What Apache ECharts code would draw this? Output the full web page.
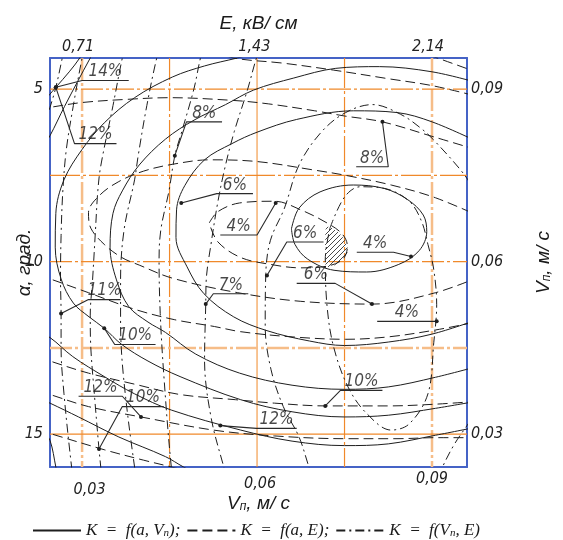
<!DOCTYPE html>
<html>
<head>
<meta charset="utf-8">
<script src="https://cdn.jsdelivr.net/npm/echarts@6/dist/echarts.min.js"></script>
<style>
html, body { margin: 0; padding: 0; background: #fff; }
#main { width: 563px; height: 540px; }
</style>
</head>
<body>
<div id="main"></div>
<script>
// все точки: [Vn, м/с ; α, град.]
// K = f(a, Vn) - сплошные
var s1 = [[0.0659,9.05],[0.0672,8.45],[0.0708,7.98],[0.0765,7.78],[0.0818,7.88],[0.0858,8.2],[0.0885,8.65],[0.0891,9.13],[0.0878,9.68],[0.0843,10.08],[0.0788,10.3],[0.0732,10.25],[0.0687,9.93],[0.0665,9.5],[0.0659,9.05]];
var s2 = [[0.0975,6.5],[0.09,5.95],[0.084,5.68],[0.0765,5.63],[0.0668,5.88],[0.06,6.25],[0.0557,6.58],[0.051,7.05],[0.0476,7.8],[0.0462,8.5],[0.0461,9.3],[0.048,10.15],[0.0509,10.93],[0.056,11.6],[0.0617,12.0],[0.069,12.3],[0.075,12.43],[0.0825,12.33],[0.09,12.1],[0.0975,11.7]];
var s3 = [[0.0975,4.8],[0.09,4.5],[0.081,4.35],[0.0735,4.4],[0.0663,4.68],[0.0594,5.03],[0.0546,5.45],[0.0492,5.9],[0.0443,6.45],[0.0398,7.2],[0.0369,7.95],[0.0353,8.6],[0.0348,9.58],[0.0359,10.53],[0.038,11.3],[0.0413,11.75],[0.0443,12.05],[0.0495,12.68],[0.057,13.23],[0.066,13.58],[0.075,13.7],[0.0825,13.63],[0.0906,13.35],[0.0975,13.05]];
var s4 = [[0.0615,3.88],[0.0566,4.1],[0.051,4.33],[0.0455,4.65],[0.039,5.25],[0.0338,5.98],[0.03,6.75],[0.0269,7.63],[0.0255,8.6],[0.0254,9.58],[0.0264,10.5],[0.0285,11.2],[0.0312,11.6],[0.0338,11.93],[0.0368,12.4],[0.0413,12.88],[0.0468,13.33],[0.0572,14.0],[0.066,14.35],[0.075,14.5],[0.0825,14.45],[0.0906,14.25],[0.0975,14.05]];
var s5a = [[0.033,3.63],[0.0314,4.1],[0.027,5.5],[0.0245,6.35],[0.0225,6.9]];
var s5b = [[0.0225,12.05],[0.0245,12.2],[0.0284,12.75],[0.0338,13.33],[0.039,13.83],[0.0453,14.3],[0.0572,14.88],[0.066,15.2],[0.075,15.33],[0.0825,15.28],[0.0906,15.03],[0.0975,14.8]];
var s6a = [[0.0308,3.75],[0.0296,4.1],[0.0278,4.5],[0.0255,4.95],[0.0233,5.38]];
var s6b = [[0.0225,13.95],[0.0245,14.1],[0.0294,14.5],[0.0363,15.08],[0.0443,15.65],[0.0474,15.95],[0.051,16.25]];
var s7 = [[0.0233,14.88],[0.0245,15.18],[0.0255,15.95],[0.0258,16.25]];

// K = f(a, E) - штриховые
var d1 = [[0.0518,8.88],[0.0533,8.55],[0.057,8.3],[0.063,8.25],[0.0675,8.5],[0.072,8.88],[0.0746,9.2],[0.0755,9.55],[0.0747,9.93],[0.072,10.13],[0.0675,10.18],[0.0623,10.08],[0.0572,9.88],[0.0533,9.43],[0.0518,8.88]];
var d2a = [[0.0225,5.58],[0.0245,5.53],[0.03,5.39],[0.0375,5.3],[0.045,5.25],[0.056,5.33],[0.062,5.43],[0.0699,5.63],[0.075,5.78],[0.0815,5.95],[0.0906,6.4],[0.0975,6.75]];
var d2b = [[0.0225,10.4],[0.0245,10.5],[0.0311,10.9],[0.039,11.38],[0.0458,11.68],[0.0527,11.88],[0.0572,12.03],[0.066,12.18],[0.0752,12.25],[0.0825,12.18],[0.0906,11.98],[0.0975,11.75]];
var d3 = [[0.099,8.75],[0.0906,8.15],[0.083,7.78],[0.0752,7.5],[0.0699,7.35],[0.06,7.1],[0.0519,7.05],[0.0455,7.18],[0.0405,7.38],[0.0363,7.68],[0.033,8.08],[0.0311,8.58],[0.0315,9.03],[0.0338,9.5],[0.0368,9.88],[0.0398,10.1],[0.0455,10.48],[0.0567,10.9],[0.0675,11.15],[0.0798,11.23],[0.0906,10.9],[0.099,10.38]];
var d4a = [[0.0525,3.88],[0.056,4.1],[0.0645,4.25],[0.0731,4.45],[0.0825,4.7],[0.09,4.9],[0.0975,5.2]];
var d4b = [[0.0225,12.75],[0.0245,12.88],[0.0311,13.23],[0.039,13.55],[0.0468,13.85],[0.0563,14.0],[0.063,14.1],[0.0717,14.18],[0.0825,14.18],[0.0906,14.13],[0.0975,14.05]];
var d5a = [[0.087,3.88],[0.0909,4.1],[0.0975,4.5]];
var d5b = [[0.0225,13.75],[0.0245,13.85],[0.0311,14.2],[0.0401,14.5],[0.0525,14.88],[0.063,15.05],[0.0752,15.13],[0.084,15.13],[0.0906,15.1],[0.0975,15.1]];
var d6 = [[0.0225,14.88],[0.0245,14.98],[0.0338,15.45],[0.0405,15.75],[0.0465,16.0],[0.0495,16.15]];

// K = f(Vn, E) - штрихпунктир
var ddA = [[0.0725,9.03],[0.075,8.13],[0.0777,7.83],[0.0819,7.88],[0.0861,8.25],[0.0882,8.83],[0.0893,9.5],[0.0903,10.23],[0.0908,11.25],[0.0903,12.35],[0.0893,13.83],[0.0861,14.7],[0.083,14.88],[0.0788,14.4],[0.0756,13.63],[0.0731,12.45],[0.072,11.28],[0.0717,9.93],[0.0725,9.03]];
var ddB1 = [[0.0698,16.38],[0.0689,15.95],[0.0672,15.08],[0.0645,14.2],[0.0624,13.13],[0.0614,11.88],[0.0615,10.35],[0.0623,9.38],[0.0647,8.45],[0.0672,7.2],[0.071,6.25],[0.0752,5.68],[0.0798,5.45],[0.0846,5.73],[0.0882,6.15],[0.0906,6.53],[0.0954,7.45],[0.0975,8.0]];
var ddB2 = [[0.0912,16.25],[0.0918,15.95],[0.0938,15.3],[0.096,14.75],[0.0975,14.38]];
var ddC = [[0.051,3.75],[0.0503,4.1],[0.0492,4.98],[0.0471,6.23],[0.0459,6.93],[0.0449,7.95],[0.0435,9.08],[0.0432,10.0],[0.0434,11.5],[0.044,13.25],[0.0453,15.95],[0.0458,16.25]];
var ddD = [[0.0608,3.75],[0.0599,4.1],[0.0584,5.0],[0.0561,6.23],[0.0546,7.2],[0.0533,8.25],[0.0521,9.5],[0.0513,10.5],[0.0512,11.25],[0.051,12.85],[0.0521,14.5],[0.0543,15.95],[0.0549,16.25]];
var ddE = [[0.0435,3.75],[0.0428,4.1],[0.0411,5.48],[0.0396,6.95],[0.039,7.63],[0.0372,9.08],[0.0366,10.53],[0.0366,11.75],[0.0371,13.33],[0.039,15.95],[0.0395,16.25]];
var ddF = [[0.0375,3.75],[0.0369,4.1],[0.0353,5.48],[0.0332,7.23],[0.0327,7.95],[0.0323,9.08],[0.0318,10.53],[0.0314,11.55],[0.0315,12.5],[0.0321,13.83],[0.0329,15.43],[0.0332,15.95],[0.0333,16.25]];
var ddG = [[0.0305,3.75],[0.03,4.1],[0.0285,5.48],[0.0273,6.75],[0.0267,7.95],[0.0264,9.25],[0.0263,10.5],[0.0264,11.5],[0.0264,12.5],[0.0269,13.83],[0.0282,15.95],[0.0285,16.25]];
var ddH = [[0.027,3.75],[0.0266,4.1],[0.0255,4.95],[0.0245,5.53],[0.0233,6.13]];

// заштрихованная область
var hatch = [[0.072,9.0],[0.0735,9.1],[0.0747,9.3],[0.0755,9.58],[0.0753,9.83],[0.0743,10.0],[0.072,10.15],[0.0717,9.75],[0.0717,9.38]];

// выноски
var labelText = ['14%','12%','8%','8%','6%','4%','6%','4%','6%','4%','7%','11%','10%','12%','10%','10%','12%'];
var labelDot = [[0.0255,4.95],[0.0255,4.95],[0.0459,6.93],[0.0815,5.95],[0.047,8.3],[0.0632,8.3],[0.0617,10.4],[0.0864,9.85],[0.0797,11.23],[0.0908,11.73],[0.0512,11.23],[0.0264,11.5],[0.0338,11.93],[0.0401,14.5],[0.0329,15.43],[0.0717,14.18],[0.0537,14.75]];
var labelElbow = [[0.03,4.75],[0.0287,6.58],[0.0479,5.95],[0.0825,7.25],[0.0531,8.03],[0.06,9.23],[0.0651,9.43],[0.0834,9.73],[0.0734,10.63],[0.0908,11.73],[0.0525,10.93],[0.0311,11.1],[0.0356,12.4],[0.0369,13.9],[0.0369,14.2],[0.0743,13.73],[0.0599,14.83]];
var labelEnd = [[0.038,4.75],[0.0359,6.58],[0.054,5.95],[0.077,7.25],[0.0593,8.03],[0.0537,9.23],[0.0714,9.43],[0.0771,9.73],[0.0668,10.63],[0.0806,11.73],[0.0585,10.93],[0.0366,11.1],[0.0426,12.4],[0.0294,13.9],[0.044,14.2],[0.0815,13.73],[0.0668,14.83]];

// сетка
var gridV = [0.03, 0.045, 0.06, 0.075, 0.09];
var gridA = [5, 7.5, 10, 12.5, 15];
var ticksV = [0.03, 0.06, 0.09];
var ticksA = [5, 10, 15];
var ticksE = [0.71, 1.43, 2.14];

var xMin = 0.0245, xMax = 0.096, yMin = 4.1, yMax = 15.95;
var ink = '#1e1e1e';
var orange = '#f0892a', peach = '#f6bd88';
var narrow = "'Liberation Sans Narrow', 'DejaVu Sans Condensed', 'Liberation Sans', sans-serif";
var sans = "'Liberation Sans', Arial, sans-serif";
var serif = "'Liberation Serif', 'Times New Roman', serif";
var nameS = 'K = f(a, Vn);', nameD = 'K = f(a, E);', nameDD = 'K = f(Vn, E)';
var dashType = [10, 5], dashDotType = [9, 4, 2, 4];

var chart = echarts.init(document.getElementById('main'));
var series = [];

// линии сетки
var vStyle = [
    { color: peach, width: 2.5, type: [22, 3, 3, 3] },
    { color: orange, width: 1.2, type: [22, 3, 3, 3] },
    { color: orange, width: 1, type: 'solid' },
    { color: orange, width: 1.2, type: [30, 3, 3, 3] },
    { color: peach, width: 2.5, type: [22, 3, 3, 3] }
];
var aStyle = [
    { color: orange, width: 1.2, type: [22, 3, 3, 3] },
    { color: orange, width: 1.2, type: [30, 3, 3, 3] },
    { color: orange, width: 1.2, type: [22, 3, 3, 3] },
    { color: peach, width: 2.5, type: [22, 3, 3, 3] },
    { color: orange, width: 1.2, type: 'solid' }
];
gridV.forEach(function (v, i) {
    series.push({ type: 'line', name: 'gv', data: [[v, yMin], [v, yMax]], symbol: 'none', silent: true, z: 1, lineStyle: vStyle[i] });
});
gridA.forEach(function (a, i) {
    series.push({ type: 'line', name: 'ga', data: [[xMin, a], [xMax, a]], symbol: 'none', silent: true, z: 1, lineStyle: aStyle[i] });
});

function curve(name, pts, type) {
    return {
        name: name, type: 'line', data: pts, smooth: 0.35, symbol: 'none',
        clip: true, silent: true, z: 3,
        itemStyle: { color: ink },
        lineStyle: { color: ink, width: 1, type: type }
    };
}
[s1, s2, s3, s4, s5a, s5b, s6a, s6b, s7].forEach(function (p) { series.push(curve(nameS, p, 'solid')); });
[d1, d2a, d2b, d3, d4a, d4b, d5a, d5b, d6].forEach(function (p) { series.push(curve(nameD, p, dashType)); });
[ddA, ddB1, ddB2, ddC, ddD, ddE, ddF, ddG, ddH].forEach(function (p) { series.push(curve(nameDD, p, dashDotType)); });

// штриховка
var hc = document.createElement('canvas');
hc.width = 5; hc.height = 5;
var hctx = hc.getContext('2d');
hctx.strokeStyle = '#333';
hctx.lineWidth = 0.9;
hctx.beginPath();
hctx.moveTo(0, 5); hctx.lineTo(5, 0);
hctx.moveTo(-1, 1); hctx.lineTo(1, -1);
hctx.moveTo(4, 6); hctx.lineTo(6, 4);
hctx.stroke();
series.push({
    type: 'custom', name: 'hatch', silent: true, z: 2,
    data: [hatch[0]],
    renderItem: function (params, api) {
        var pts = hatch.map(function (p) { return api.coord(p); });
        return { type: 'polygon', shape: { points: pts, smooth: 0.4 }, style: { fill: { image: hc, repeat: 'repeat' }, stroke: null } };
    }
});

// выноски и подписи
labelText.forEach(function (t, i) {
    series.push({
        type: 'line', name: 'lead', silent: true, z: 4, clip: false,
        data: [
            { value: labelDot[i], symbol: 'circle', symbolSize: 4 },
            { value: labelElbow[i], symbol: 'none' },
            { value: labelEnd[i], symbol: 'none' }
        ],
        showSymbol: true,
        itemStyle: { color: ink },
        lineStyle: { color: '#2a2a2a', width: 1.1 }
    });
});
series.push({
    type: 'scatter', name: 'txt', silent: true, z: 5, symbolSize: 0.1,
    itemStyle: { color: 'transparent' },
    data: labelText.map(function (t, i) {
        return { name: t, value: [(labelElbow[i][0] + labelEnd[i][0]) / 2, labelElbow[i][1]] };
    }),
    label: {
        show: true, position: 'top', distance: 0, formatter: '{b}',
        fontFamily: narrow, fontStyle: 'italic', fontSize: 17, color: '#1a1a1a'
    }
});

var frame = { show: true, lineStyle: { color: '#4563c6', width: 2 } };
var tickFont = { fontFamily: narrow, fontStyle: 'italic', fontSize: 16, color: '#222' };
function comma(v, d) { return v.toFixed(d).replace('.', ','); }
var subRich = {
    v: { fontFamily: sans, fontStyle: 'italic', fontSize: 19, color: '#1a1a1a' },
    s: { fontFamily: sans, fontStyle: 'italic', fontSize: 12, color: '#1a1a1a', padding: [7, 0, 0, 0] }
};

chart.setOption({
    animation: false,
    grid: { left: 50, right: 96, top: 58, bottom: 73, containLabel: false, outerBoundsMode: 'none' },
    legend: {
        left: 27, top: 517, itemWidth: 48, itemHeight: 14, itemGap: 6, selectedMode: false,
        data: [nameS, nameD, nameDD],
        itemStyle: { opacity: 0 },
        formatter: function (name) {
            return '{t|' + name.replace(' = ', '  =  ').replace('Vn', 'V}{s|n}{t|') + '}';
        },
        textStyle: {
            rich: {
                t: { fontFamily: serif, fontStyle: 'italic', fontSize: 17, color: '#1a1a1a' },
                s: { fontFamily: serif, fontStyle: 'italic', fontSize: 11, color: '#1a1a1a', padding: [6, 0, 0, 0] }
            }
        }
    },
    xAxis: [{
        type: 'value', position: 'bottom', min: xMin, max: xMax,
        axisLine: frame, axisTick: { show: false }, splitLine: { show: false },
        axisLabel: {
            customValues: ticksV, margin: 4,
            formatter: function (v) {
                var k = v < 0.04 ? 'a' : (v < 0.07 ? 'b' : 'c');
                return '{' + k + '|' + comma(v, 2) + '}';
            },
            rich: {
                a: Object.assign({ padding: [11, 0, 0, 15] }, tickFont),
                b: Object.assign({ padding: [5, 0, 0, 6] }, tickFont),
                c: Object.assign({ padding: [0, 0, 0, 0] }, tickFont)
            }
        },
        name: '{v|V}{s|п}{v|, м/ с}', nameLocation: 'middle', nameGap: 27, nameMoveOverlap: false,
        nameTextStyle: { rich: subRich }
    }, {
        type: 'value', position: 'top', min: 0.5788, max: 2.283,
        axisLine: frame, axisTick: { show: false }, splitLine: { show: false },
        axisLabel: Object.assign({
            customValues: ticksE, margin: 3, padding: [0, 8, 0, 0],
            formatter: function (v) { return comma(v, 2); }
        }, tickFont),
        name: 'E, кВ/ см', nameLocation: 'middle', nameGap: 25, nameMoveOverlap: false,
        nameTextStyle: { fontFamily: sans, fontStyle: 'italic', fontSize: 19, color: '#1a1a1a' }
    }],
    yAxis: [{
        type: 'value', position: 'left', inverse: true, min: yMin, max: yMax,
        axisLine: frame, axisTick: { show: false }, splitLine: { show: false },
        axisLabel: Object.assign({ customValues: ticksA, margin: 7 }, tickFont),
        name: 'α, град.', nameLocation: 'middle', nameGap: 16, nameRotate: 90, nameMoveOverlap: false,
        nameTextStyle: { fontFamily: sans, fontStyle: 'italic', fontSize: 19, color: '#1a1a1a' }
    }, {
        type: 'value', position: 'right', min: 0.0243, max: 0.0954,
        axisLine: frame, axisTick: { show: false }, splitLine: { show: false },
        axisLabel: Object.assign({
            customValues: ticksV, margin: 4,
            formatter: function (v) { return comma(v, 2); }
        }, tickFont),
        name: '{v|V}{s|п}{v|, м/ с}', nameLocation: 'middle', nameGap: 67, nameRotate: 90, nameMoveOverlap: false,
        nameTextStyle: { rich: subRich }
    }],
    series: series
});
</script>
</body>
</html>
